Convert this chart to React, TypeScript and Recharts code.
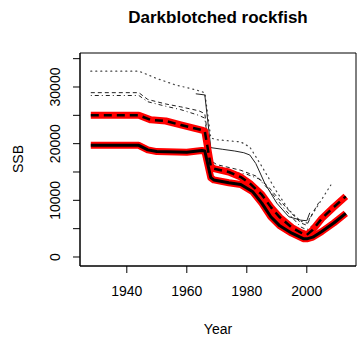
import { LineChart, Line, XAxis, YAxis, ReferenceArea } from 'recharts'

document.body.style.margin = '0'

const FONT = '"Liberation Sans", Arial, Helvetica, sans-serif'
const W = 357
const H = 345

// thick red/black solid: base run
const baseYears = [1928, 1944, 1947, 1950, 1960, 1965, 1966, 1968, 1969, 1974, 1978, 1982, 1985, 1988, 1991, 1995, 1999, 2000, 2002, 2005, 2009, 2013]
const baseSSB = [19700, 19700, 18900, 18600, 18500, 18800, 18700, 14000, 13600, 13100, 12800, 11500, 9500, 7100, 5500, 4200, 3200, 3200, 3500, 4500, 6000, 7700]

// thick red with black dashes
const altYears = [1928, 1944, 1948, 1953, 1958, 1965, 1966, 1968, 1969, 1974, 1978, 1981, 1985, 1988, 1991, 1995, 1998, 2000, 2002, 2005, 2009, 2013]
const altSSB = [25000, 25000, 24200, 24000, 23300, 22400, 22200, 16000, 15600, 15000, 14100, 13000, 11000, 8800, 7000, 5200, 4300, 3900, 4800, 6800, 8800, 10700]

// thin lines
const dotYears = [1928, 1944, 1950, 1956, 1963, 1966, 1968, 1970, 1978, 1981, 1985, 1990, 1994, 1998, 2000, 2003, 2008]
const dotSSB = [32800, 32800, 31500, 30400, 29500, 29000, 21000, 20700, 20300, 19400, 16000, 11500, 8300, 6300, 6000, 8500, 12700]

const dashYears = [1928, 1944, 1947, 1953, 1958, 1964, 1966, 1968, 1970, 1978, 1983, 1987, 1993, 1998, 2000, 2002, 2004]
const dashSSB = [29000, 29000, 27800, 27000, 26500, 25800, 25300, 17000, 16300, 15300, 14300, 12500, 8800, 6000, 5600, 7800, 9600]

const dotdashYears = [1928, 1944, 1947, 1953, 1958, 1964, 1966, 1968, 1970, 1976, 1980, 1984, 1988, 1993, 1998, 2000, 2003, 2008]
const dotdashSSB = [28500, 28500, 27400, 26600, 26000, 25000, 24500, 16500, 15800, 14900, 14600, 13800, 11500, 8200, 5300, 4800, 6000, 7600]

const solidYears = [1963, 1966, 1968, 1972, 1976, 1979, 1981, 1983, 1986, 1990, 1994, 1998, 2000, 2001]
const solidSSB = [28800, 28600, 19300, 19000, 18700, 18400, 18000, 16500, 13000, 9500, 7100, 6500, 6400, 7800]

const xTicks = [1940, 1960, 1980, 2000]
const yTicks = [0, 5000, 10000, 15000, 20000, 25000, 30000, 35000]
const xDomain = [1924.4, 2016.4]
const yDomain = [-1590, 36000]

const toRows = (years: number[], vals: number[]) => years.map((year, i) => ({ year, ssb: vals[i] }))

const base = toRows(baseYears, baseSSB)
const alt = toRows(altYears, altSSB)
const dotted = toRows(dotYears, dotSSB)
const dashed = toRows(dashYears, dashSSB)
const dotdash = toRows(dotdashYears, dotdashSSB)
const solid = toRows(solidYears, solidSSB)

const XTick = ({ x, y, payload }: any) => (
  <text x={x} y={y + 21} textAnchor="middle" fontSize={14} fontFamily={FONT} fill="#000">
    {payload.value}
  </text>
)

// R only labels every other tick here
const YTick = ({ x, y, payload }: any) =>
  payload.value % 10000 === 0 ? (
    <text transform={`translate(${x - 11},${y}) rotate(-90)`} textAnchor="middle" fontSize={14} fontFamily={FONT} fill="#000">
      {payload.value}
    </text>
  ) : null

const thin = { stroke: '#222', strokeWidth: 1, dot: false, isAnimationActive: false, type: 'linear' as const, dataKey: 'ssb' }

export default function App() {
  return (
    <div style={{ position: 'relative', width: W, height: H, background: '#fff' }}>
      <LineChart width={W} height={H} margin={{ top: 53, right: 1, left: 0, bottom: 0 }}>
        <XAxis type="number" dataKey="year" domain={xDomain} ticks={xTicks} interval={0}
          tickSize={7} tick={<XTick />} axisLine={{ stroke: '#000' }} tickLine={{ stroke: '#000' }}
          height={79} allowDataOverflow />
        <YAxis type="number" domain={yDomain} ticks={yTicks} interval={0} width={80}
          tickSize={7} tick={<YTick />} axisLine={{ stroke: '#000' }} tickLine={{ stroke: '#000' }}
          allowDataOverflow />
        <ReferenceArea x1={xDomain[0]} x2={xDomain[1]} y1={yDomain[0]} y2={yDomain[1]}
          fill="none" stroke="#000" strokeWidth={1} ifOverflow="visible" />
        <Line {...thin} data={dotted} strokeDasharray="1 4" strokeLinecap="round" strokeWidth={1.2} stroke="#444" />
        <Line {...thin} data={dashed} strokeDasharray="4 3" />
        <Line {...thin} data={dotdash} strokeDasharray="1 3 4 3" />
        <Line {...thin} data={solid} />
        <Line data={base} dataKey="ssb" type="linear" dot={false} isAnimationActive={false} stroke="#ff0000" strokeWidth={7} strokeLinejoin="round" />
        <Line data={alt} dataKey="ssb" type="linear" dot={false} isAnimationActive={false} stroke="#ff0000" strokeWidth={7} strokeLinejoin="round" />
        <Line data={base} dataKey="ssb" type="linear" dot={false} isAnimationActive={false} stroke="#000" strokeWidth={3} strokeLinejoin="round" />
        <Line data={alt} dataKey="ssb" type="linear" dot={false} isAnimationActive={false} stroke="#000" strokeWidth={2.5} strokeDasharray="8 5" strokeLinejoin="round" />
      </LineChart>
      <svg width={W} height={H} style={{ position: 'absolute', left: 0, top: 0, pointerEvents: 'none' }}>
        <text x={218} y={23} textAnchor="middle" fontSize={17} fontWeight="bold" fontFamily={FONT} fill="#000">
          Darkblotched rockfish
        </text>
        <text transform="translate(23,159) rotate(-90)" textAnchor="middle" fontSize={14} fontFamily={FONT} fill="#000">
          SSB
        </text>
        <text x={218} y={334} textAnchor="middle" fontSize={14} fontFamily={FONT} fill="#000">
          Year
        </text>
      </svg>
    </div>
  )
}
